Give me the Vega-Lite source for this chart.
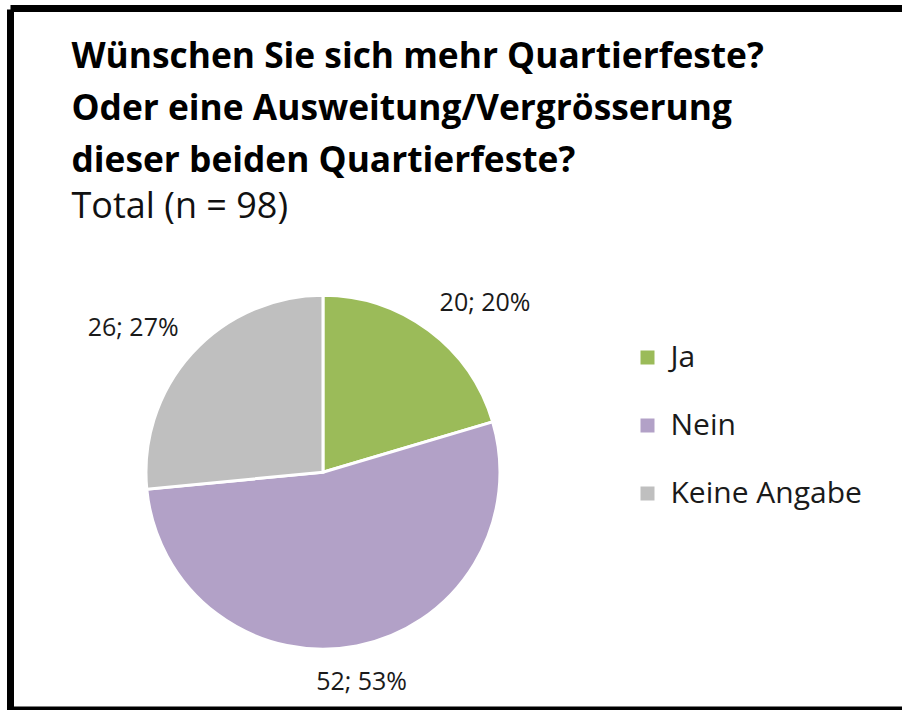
{
  "$schema": "https://vega.github.io/schema/vega-lite/v6.json",
  "width": 891.5,
  "height": 701.5,
  "autosize": {"type": "none"},
  "padding": {"left": 10.5, "top": 8.5, "right": 0, "bottom": 0},
  "background": "white",
  "config": {
    "view": {"stroke": "black", "strokeWidth": 7, "fill": "white", "strokeDash": [893.5, 697.5, 1594, 1]},
    "font": "Open Sans"
  },
  "title": {
    "text": ["Wünschen Sie sich mehr Quartierfeste?", "Oder eine Ausweitung/Vergrösserung", "dieser beiden Quartierfeste?"],
    "subtitle": "Total (n = 98)",
    "anchor": "start",
    "frame": "group",
    "orient": "top",
    "offset": -216,
    "dx": 61,
    "font": "Open Sans",
    "fontSize": 35.3,
    "fontWeight": "bold",
    "lineHeight": 52,
    "color": "#000000",
    "subtitleFont": "Open Sans",
    "subtitleFontSize": 36,
    "subtitleFontWeight": "normal",
    "subtitleColor": "#111111",
    "subtitlePadding": 10
  },
  "data": {
    "values": [
      {"Antwort": "Ja", "Anzahl": 20, "Label": "20; 20%", "Nr": 1},
      {"Antwort": "Nein", "Anzahl": 52, "Label": "52; 53%", "Nr": 2},
      {"Antwort": "Keine Angabe", "Anzahl": 26, "Label": "26; 27%", "Nr": 3}
    ]
  },
  "encoding": {
    "theta": {"field": "Anzahl", "type": "quantitative", "stack": true},
    "order": {"field": "Nr", "type": "quantitative"},
    "x": {"datum": 0.3505, "type": "quantitative", "scale": {"domain": [0, 1]}, "axis": null},
    "y": {"datum": 0.339, "type": "quantitative", "scale": {"domain": [0, 1]}, "axis": null}
  },
  "layer": [
    {
      "mark": {"type": "arc", "outerRadius": 177, "stroke": "white", "strokeWidth": 3},
      "encoding": {
        "color": {
          "field": "Antwort",
          "type": "nominal",
          "sort": ["Ja", "Nein", "Keine Angabe"],
          "scale": {"domain": ["Ja", "Nein", "Keine Angabe"], "range": ["#9BBB59", "#B2A1C7", "#BFBFBF"]},
          "legend": {
            "orient": "none",
            "legendX": 622,
            "legendY": 334,
            "title": null,
            "symbolType": "square",
            "symbolSize": 196,
            "symbolStrokeWidth": 0,
            "symbolOpacity": 1,
            "labelFont": "Open Sans",
            "labelFontSize": 30,
            "labelColor": "#1a1a1a",
            "labelOffset": 8,
            "labelLimit": 400,
            "rowPadding": 38,
            "padding": 0
          }
        }
      }
    },
    {
      "mark": {
        "type": "text",
        "radius": {"expr": "datum.Antwort == 'Nein' ? 202 : 195"},
        "align": {"expr": "datum.Antwort == 'Ja' ? 'left' : (datum.Antwort == 'Nein' ? 'center' : 'right')"},
        "baseline": {"expr": "datum.Antwort == 'Nein' ? 'top' : 'bottom'"},
        "fontSize": 25,
        "font": "Open Sans",
        "color": "#1a1a1a"
      },
      "encoding": {"text": {"field": "Label", "type": "nominal"}}
    }
  ]
}
